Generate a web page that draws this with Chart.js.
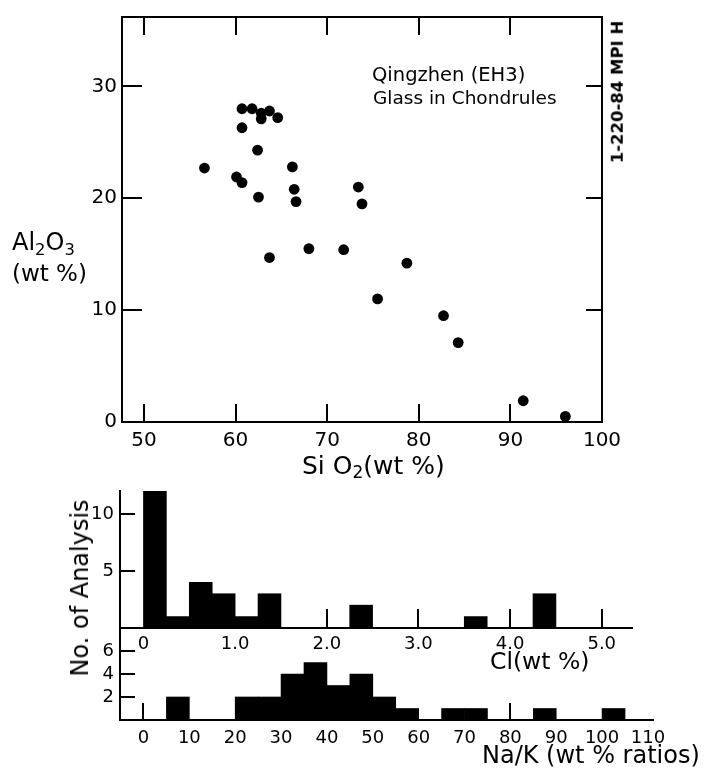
<!DOCTYPE html>
<html>
<head>
<meta charset="utf-8">
<script src="https://cdn.jsdelivr.net/npm/chart.js@4.4.1/dist/chart.umd.min.js"></script>
<style>
  html, body { margin: 0; padding: 0; background: #fff; }
  #wrap { position: relative; width: 706px; height: 776px; overflow: hidden; font-family: "DejaVu Sans", sans-serif; color: #000; }
  canvas { position: absolute; left: 0; top: 0; }
  .t { position: absolute; white-space: nowrap; line-height: 1; transform: translateY(-50%); }
  .r { position: absolute; white-space: nowrap; line-height: 1; transform: translate(-50%, -50%) rotate(-90deg); }
  sub { font-size: 0.68em; vertical-align: -0.28em; line-height: 0; }
</style>
</head>
<body>
<div id="wrap">
  <canvas id="c1" width="706" height="776"></canvas>
  <canvas id="c2" width="706" height="776"></canvas>
  <canvas id="c3" width="706" height="776"></canvas>
  <div class="t" style="left:372px; top:75px; font-size:19.5px;">Qingzhen (EH3)</div>
  <div class="t" style="left:373px; top:98px; font-size:18.5px;">Glass in Chondrules</div>
  <div class="r" style="left:618px; top:92px; font-size:16.5px; font-weight:bold;">1-220-84 MPI H</div>
  <div class="t" style="left:12px; top:242px; font-size:24px;">Al<sub>2</sub>O<sub>3</sub></div>
  <div class="t" style="left:12px; top:273px; font-size:23px;">(wt %)</div>
  <div class="t" style="left:302px; top:465px; font-size:25px;">Si O<sub>2</sub>(wt %)</div>
  <div class="r" style="left:80px; top:588px; font-size:24px;">No. of Analysis</div>
  <div class="t" style="left:490px; top:662px; font-size:23.5px;">Cl(wt %)</div>
  <div class="t" style="left:482px; top:755px; font-size:24px;">Na/K (wt % ratios)</div>
</div>
<script>
// ---------- Data ----------
// Scatter: glass in chondrules, SiO2 vs Al2O3 (wt %)
const siO2  = [60.7, 61.8, 62.8, 63.7, 62.8, 64.6, 60.7, 62.4, 56.6, 66.2, 60.1, 60.7, 62.5,
               66.4, 66.6, 73.4, 73.8, 68.0, 71.8, 63.7, 78.7, 75.5, 82.7, 84.3, 91.4, 96.0];
const al2O3 = [28.0, 28.0, 27.6, 27.8, 27.1, 27.2, 26.3, 24.3, 22.7, 22.8, 21.9, 21.4, 20.1,
               20.8, 19.7, 21.0, 19.5, 15.5, 15.4, 14.7, 14.2, 11.0, 9.5, 7.1, 1.9, 0.5];
const scatterXTicks = [50, 60, 70, 80, 90, 100];
const scatterYTicks = [0, 10, 20, 30];

// Histogram: Cl (wt %), bins of 0.25
const clBinStart = [0, 0.25, 0.5, 0.75, 1.0, 1.25, 1.5, 1.75, 2.0, 2.25, 2.5, 2.75, 3.0, 3.25, 3.5, 3.75, 4.0, 4.25];
const clCounts   = [12, 1, 4, 3, 1, 3, 0, 0, 0, 2, 0, 0, 0, 0, 1, 0, 0, 3];
const clXTicks = [0, 1, 2, 3, 4, 5];
const clYTicks = [5, 10];

// Histogram: Na/K (wt % ratios), bins of 5
const nakBinStart = [0, 5, 10, 15, 20, 25, 30, 35, 40, 45, 50, 55, 60, 65, 70, 75, 80, 85, 90, 95, 100];
const nakCounts   = [0, 2, 0, 0, 2, 2, 4, 5, 3, 4, 2, 1, 0, 1, 1, 0, 0, 1, 0, 0, 1];
const nakXTicks = [0, 10, 20, 30, 40, 50, 60, 70, 80, 90, 100, 110];
const nakYTicks = [2, 4, 6];

// ---------- Helpers ----------
const FONT = '"DejaVu Sans", sans-serif';
const inTicks = {
  id: 'inTicks',
  afterDatasetsDraw(chart, args, opts) {
    const ctx = chart.ctx, a = chart.chartArea;
    ctx.save();
    ctx.strokeStyle = '#000';
    ctx.lineWidth = 2;
    for (const it of opts.items || []) {
      const s = chart.scales[it.scale];
      for (const v of it.values) {
        const p = Math.round(s.getPixelForValue(v));
        ctx.beginPath();
        if (it.side === 'bottom') { ctx.moveTo(p, a.bottom); ctx.lineTo(p, a.bottom - it.len); }
        else if (it.side === 'top') { ctx.moveTo(p, a.top); ctx.lineTo(p, a.top + it.len); }
        else if (it.side === 'left') { ctx.moveTo(a.left, p); ctx.lineTo(a.left + it.len, p); }
        else { ctx.moveTo(a.right, p); ctx.lineTo(a.right - it.len, p); }
        ctx.stroke();
      }
    }
    ctx.restore();
  }
};
const setH = h => s => { s.height = h; };
const setW = w => s => { s.width = w; };
const fixed = arr => s => { s.ticks = arr.map(v => ({ value: v })); };
const border = { display: true, color: '#000', width: 2 };
const noGrid = { display: false, drawTicks: false };
const base = {
  responsive: false, animation: false, events: [],
  plugins: { legend: { display: false }, tooltip: { enabled: false } }
};
function bins(starts, counts) {
  const w = starts[1] - starts[0];
  return starts.map((s, i) => ({ x: s + w / 2, y: counts[i] }));
}
const AXW = 50;   // width reserved for y tick labels
const AXH = 34;   // height reserved for x tick labels

// ---------- Chart 1: scatter ----------
new Chart(document.getElementById('c1'), {
  type: 'scatter',
  data: { datasets: [{
    data: siO2.map((x, i) => ({ x, y: al2O3[i] })),
    pointRadius: 5.4, pointBackgroundColor: '#000', pointBorderWidth: 0
  }]},
  options: Object.assign({}, base, {
    layout: { padding: { left: 122 - AXW, right: 104, top: 13, bottom: 354 - AXH } },
    plugins: Object.assign({}, base.plugins, { inTicks: { items: [
      { scale: 'x', side: 'bottom', values: [50, 60, 70, 80, 90], len: 18 },
      { scale: 'x2', side: 'top', values: [50, 60, 70, 80, 90], len: 18 },
      { scale: 'y', side: 'left', values: [10, 20, 30], len: 20 },
      { scale: 'y2', side: 'right', values: [10, 20, 30], len: 16 }
    ]}}),
    scales: {
      x: { type: 'linear', position: 'bottom', min: 47.6, max: 100, grid: noGrid, border,
           afterFit: setH(AXH), afterBuildTicks: fixed(scatterXTicks),
           ticks: { color: '#000', padding: 7, maxRotation: 0, font: { family: FONT, size: 20 } } },
      x2: { type: 'linear', position: 'top', min: 47.6, max: 100, grid: noGrid, border,
            afterFit: setH(0), ticks: { display: false } },
      y: { type: 'linear', position: 'left', min: 0, max: 36.2, grid: noGrid, border,
           afterFit: setW(AXW), afterBuildTicks: fixed(scatterYTicks),
           ticks: { color: '#000', padding: 5, font: { family: FONT, size: 20 } } },
      y2: { type: 'linear', position: 'right', min: 0, max: 36.2, grid: noGrid, border,
            afterFit: setW(0), ticks: { display: false } }
    }
  }),
  plugins: [inTicks]
});

// ---------- Chart 2: Cl histogram ----------
new Chart(document.getElementById('c2'), {
  type: 'bar',
  data: { datasets: [{
    data: bins(clBinStart, clCounts),
    backgroundColor: '#000', borderWidth: 0, barPercentage: 1, categoryPercentage: 1
  }]},
  options: Object.assign({}, base, {
    layout: { padding: { left: 120 - AXW, right: 706 - 632, top: 491, bottom: 776 - 628 - AXH } },
    plugins: Object.assign({}, base.plugins, { inTicks: { items: [
      { scale: 'x', side: 'bottom', values: [2, 3, 4, 5], len: 19 },
      { scale: 'y', side: 'left', values: [5, 10], len: 15 }
    ]}}),
    scales: {
      x: { type: 'linear', position: 'bottom', offset: false, min: -0.256, max: 5.33, grid: noGrid, border,
           afterFit: setH(AXH), afterBuildTicks: fixed(clXTicks),
           ticks: { color: '#000', padding: 6, maxRotation: 0, font: { family: FONT, size: 18 },
                    callback: v => v === 0 ? '0' : v.toFixed(1) } },
      y: { type: 'linear', position: 'left', min: 0, max: 12, grid: noGrid, border,
           afterFit: setW(AXW), afterBuildTicks: fixed(clYTicks),
           ticks: { color: '#000', padding: 6, font: { family: FONT, size: 18 } } }
    }
  }),
  plugins: [inTicks]
});

// ---------- Chart 3: Na/K histogram ----------
new Chart(document.getElementById('c3'), {
  type: 'bar',
  data: { datasets: [{
    data: bins(nakBinStart, nakCounts),
    backgroundColor: '#000', borderWidth: 0, barPercentage: 1, categoryPercentage: 1
  }]},
  options: Object.assign({}, base, {
    layout: { padding: { left: 120 - AXW, right: 706 - 653, top: 628, bottom: 776 - 720 - AXH } },
    plugins: Object.assign({}, base.plugins, { inTicks: { items: [
      { scale: 'x', side: 'bottom', values: [0, 80], len: 17 },
      { scale: 'y', side: 'left', values: [2, 4, 6], len: 15 }
    ]}}),
    scales: {
      x: { type: 'linear', position: 'bottom', offset: false, min: -5.12, max: 111.1, grid: noGrid, border,
           afterFit: setH(AXH), afterBuildTicks: fixed(nakXTicks),
           ticks: { color: '#000', padding: 8, maxRotation: 0, autoSkip: false, font: { family: FONT, size: 18 } } },
      y: { type: 'linear', position: 'left', min: 0, max: 8, grid: noGrid, border,
           afterFit: setW(AXW), afterBuildTicks: fixed(nakYTicks),
           ticks: { color: '#000', padding: 6, font: { family: FONT, size: 18 } } }
    }
  }),
  plugins: [inTicks]
});
</script>
</body>
</html>
